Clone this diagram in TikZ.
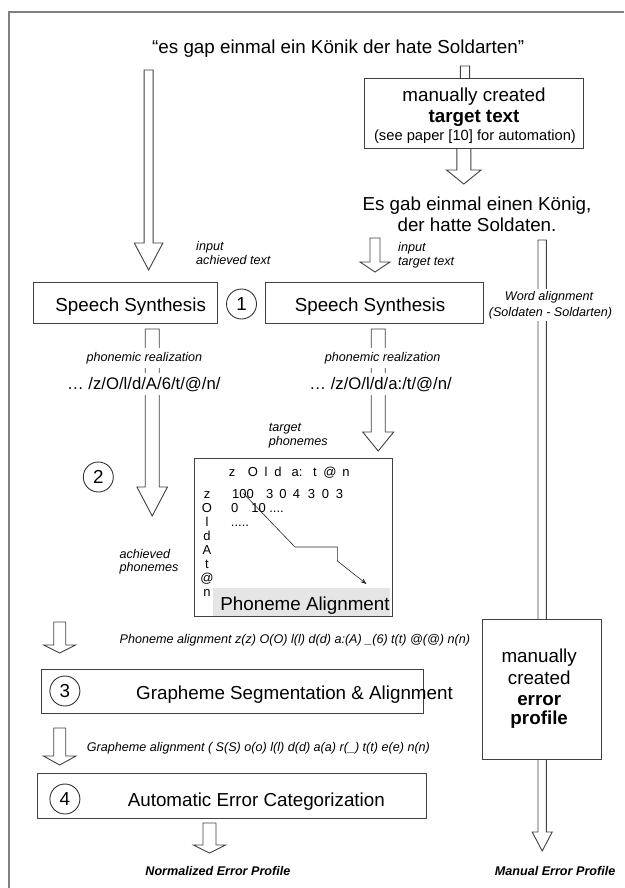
\documentclass[tikz,border=0pt]{standalone}
\usepackage{fontspec}
\setmainfont{Liberation Sans}
\usetikzlibrary{calc,arrows.meta}
\tikzset{
 bigt/.style={font=\fontsize{18.8}{22}\selectfont, inner sep=0pt},
 midt/.style={font=\fontsize{16.7}{20}\selectfont, inner sep=0pt},
 smit/.style={font=\fontsize{12.6}{15}\selectfont\itshape, inner sep=0pt},
 smbi/.style={font=\fontsize{12.6}{15}\selectfont\bfseries\itshape, inner sep=0pt},
 mat/.style={font=\fontsize{13}{15}\selectfont, inner sep=0pt},
 boxst/.style={draw=black!75, line width=0.9pt, fill=white, inner sep=0pt},
 numc/.style={circle, draw=black!80, line width=0.9pt, fill=white, minimum size=30pt, inner sep=0pt, font=\fontsize{18.8}{22}\selectfont},
 arrowshape/.style={draw=black!75, line width=0.9pt, fill=white, line join=miter},
 wbg/.style={fill=white, inner sep=2.5pt},
 wbgb/.style={fill=white, inner sep=4pt},
}
% #1 start coordinate, #2 tip coordinate, #3 shaft half width, #4 head half width, #5 head length
\newcommand\blockarr[5]{%
  \path[arrowshape] let \p1=(#1), \p2=(#2) in
   (\x1-#3,\y1) -- (\x1-#3,\y2+#5) -- (\x1-#4,\y2+#5) -- (\x1,\y2) --
   (\x1+#4,\y2+#5) -- (\x1+#3,\y2+#5) -- (\x1+#3,\y1) -- cycle;}
\begin{document}
\begin{tikzpicture}[x=1pt,y=-1pt]
\useasboundingbox (0,0) rectangle (624,888);
% frame
\draw[black!50, line width=1.2pt] (9,888) -- (9,12) -- (624,12);

% arrow end coordinates
\coordinate (a1s) at (148.6,70);  \coordinate (a1e) at (148.6,270);
\coordinate (a2s) at (465,66);    \coordinate (a2e) at (465,100);
\coordinate (a3s) at (463.8,148); \coordinate (a3e) at (463.8,184);
\coordinate (a4s) at (375,238);   \coordinate (a4e) at (375,272);
\coordinate (a5s) at (542.2,240); \coordinate (a5e) at (542.2,851);
\coordinate (a6s) at (152.2,329); \coordinate (a6e) at (152.2,516);
\coordinate (a7s) at (378.2,329); \coordinate (a7e) at (378.2,451);
\coordinate (a8s) at (59.7,622);  \coordinate (a8e) at (59.7,653);
\coordinate (a9s) at (59.7,728);  \coordinate (a9e) at (59.7,765);
\coordinate (a10s) at (209.5,823);\coordinate (a10e) at (209.5,853);

\blockarr{a1s}{a1e}{4.5pt}{14.3pt}{27pt}
\blockarr{a2s}{a2e}{4.6pt}{10pt}{10pt}
\blockarr{a3s}{a3e}{7pt}{17.3pt}{14pt}
\blockarr{a4s}{a4e}{5pt}{15pt}{10pt}
\blockarr{a5s}{a5e}{4.2pt}{10pt}{19pt}
\blockarr{a6s}{a6e}{7pt}{15.3pt}{29pt}
\blockarr{a7s}{a7e}{7pt}{15.5pt}{19pt}
\blockarr{a8s}{a8e}{6pt}{16pt}{8pt}
\blockarr{a9s}{a9e}{6pt}{16.3pt}{9pt}
\blockarr{a10s}{a10e}{6.5pt}{16pt}{8pt}

% title
\node[bigt, anchor=base] (title) at (338.2,54) {“es gap einmal ein Könik der hate Soldarten”};

% target text box
\node[boxst, minimum width=218.9pt, minimum height=70pt] (tt) at (473.5,113) {};
\node[bigt, anchor=base] (tt1) at (474,101.5) {manually created};
\node[bigt, anchor=base, font=\fontsize{18.8}{22}\selectfont\bfseries] (tt2) at (474,122.3) {target text};
\node[anchor=base, inner sep=0pt, font=\fontsize{14.7}{17}\selectfont] (tt3) at (475,140) {(see paper [10] for automation)};

\node[bigt, anchor=base] (es1) at (477,210.7) {Es gab einmal einen König,};
\node[bigt, anchor=base] (es2) at (477,231) {der hatte Soldaten.};

\node[smit, anchor=base west] (in1) at (196,250.7) {input};
\node[smit, anchor=base west] (in2) at (196,264.3) {achieved text};
\node[smit, anchor=base west] (in3) at (398,251.7) {input};
\node[smit, anchor=base west] (in4) at (398,265.7) {target text};

\node[smit, wbg, anchor=base] (wa1) at (549,300.7) {Word alignment};
\node[smit, wbg, anchor=base] (wa2) at (550.5,316) {(Soldaten - Soldarten)};

% speech synthesis
\node[boxst, minimum width=184.7pt, minimum height=41pt] (ss1) at (125.35,302.5) {};
\node[bigt, anchor=base] (ss1t) at (130.7,311.7) {Speech Synthesis};
\node[boxst, minimum width=218.5pt, minimum height=41pt] (ss2) at (374.25,302.5) {};
\node[bigt, anchor=base] (ss2t) at (370,311.7) {Speech Synthesis};
\node[numc] (c1) at (241.5,304) {1};

\node[smit, wbgb, anchor=base] (pr1) at (144.4,361) {phonemic realization};
\node[smit, wbgb, anchor=base] (pr2) at (382.6,361) {phonemic realization};
\node[midt, wbgb, anchor=base] (ph1) at (143.8,389) {… /z/O/l/d/A/6/t/@/n/};
\node[midt, wbgb, anchor=base] (ph2) at (380.6,389) {… /z/O/l/d/a:/t/@/n/};

\node[smit, anchor=base west] (tp1) at (268.6,431.7) {target};
\node[smit, anchor=base west] (tp2) at (268.6,445.7) {phonemes};
\node[smit, anchor=base west] (ap1) at (119.4,558.3) {achieved};
\node[smit, anchor=base west] (ap2) at (119.4,571.7) {phonemes};
\node[numc] (c2) at (98.3,477) {2};

% phoneme alignment matrix
\node[boxst, minimum width=198.6pt, minimum height=158pt] (pa) at (293.5,537) {};
\foreach \x/\c [count=\i] in {232/z, 253/O, 266/l, 278/d, 297/a:, 315/t, 330/@, 346/n}
  \node[mat, anchor=base] (h\i) at (\x,476.7) {\c};
\foreach \c [count=\i from 0] in {z, O, l, d, A, t, @, n}
  \node[mat, anchor=base] (v\i) at (207,498+14.08*\i) {\c};
\node[mat, anchor=base west] (r1a) at (232,498.3) {100};
\foreach \x/\c [count=\i] in {269.8/3, 283/0, 296.5/4, 311.6/3, 325.5/0, 339.4/3}
  \node[mat, anchor=base] (r1\i) at (\x,498.3) {\c};
\node[mat, anchor=base] (r2a) at (234.8,512.7) {0};
\node[mat, anchor=base] (r2b) at (258.6,512.7) {10};
\node[mat, anchor=base] (r2c) at (276.5,512.7) {....};
\node[mat, anchor=base] (r3a) at (240,526.7) {.....};
\coordinate (p0) at (243,493);
\coordinate (p1) at (295,547);
\coordinate (p2) at (337.4,547);
\coordinate (p3) at (337.4,561);
\coordinate (p4) at (366.5,584);
\draw[black!85, line width=0.6pt, -{Stealth[length=6pt,width=4.5pt]}] (p0) -- (p1) -- (p2) -- (p3) -- (p4);
\node[fill=black!10, minimum width=177.1pt, minimum height=28.3pt, inner sep=0pt] (palab) at (301.45,601.85) {};
\node[bigt, anchor=base] (palabt) at (305,610.7) {Phoneme Alignment};

\node[smit, anchor=base west] (pal) at (119.4,643.3) {Phoneme alignment z(z) O(O) l(l) d(d) a:(A) \_(6) t(t) @(@) n(n)};

% grapheme segmentation
\node[boxst, minimum width=382pt, minimum height=44pt] (gs) at (232,691) {};
\node[numc] (c3) at (64.9,691) {3};
\node[bigt, anchor=base] (gst) at (294.5,699.3) {Grapheme Segmentation \& Alignment};

\node[smit, anchor=base west] (gal) at (86.7,751) {Grapheme alignment ( S(S) o(o) l(l) d(d) a(a) r(\_) t(t) e(e) n(n)};

% error categorization
\node[boxst, minimum width=388.8pt, minimum height=45pt] (aec) at (232.2,795.5) {};
\node[numc] (c4) at (64.9,799) {4};
\node[bigt, anchor=base] (aect) at (256.3,806) {Automatic Error Categorization};

\node[smbi, anchor=base] (nep) at (217.9,875.3) {Normalized Error Profile};

% manual error profile
\node[boxst, minimum width=119.4pt, minimum height=140pt] (mep) at (542,689) {};
\node[bigt, anchor=base] (mep1) at (539.2,662.7) {manually};
\node[bigt, anchor=base] (mep2) at (539.2,684.3) {created};
\node[bigt, anchor=base, font=\fontsize{18.8}{22}\selectfont\bfseries] (mep3) at (539.2,705) {error};
\node[bigt, anchor=base, font=\fontsize{18.8}{22}\selectfont\bfseries] (mep4) at (539.2,724.3) {profile};

\node[smbi, anchor=base] (mnp) at (555.1,875.7) {Manual Error Profile};
\end{tikzpicture}
\end{document}
